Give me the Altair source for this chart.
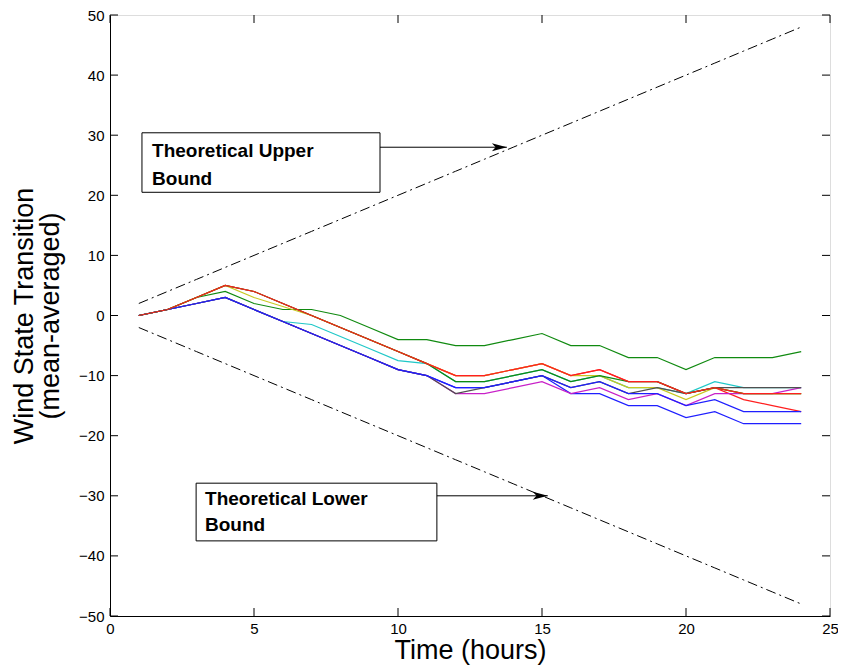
import altair as alt
import pandas as pd

hours = list(range(1, 25))

upper_bound = [2, 4, 6, 8, 10, 12, 14, 16, 18, 20, 22, 24, 26, 28, 30, 32, 34, 36, 38, 40, 42, 44, 46, 48]
lower_bound = [-2, -4, -6, -8, -10, -12, -14, -16, -18, -20, -22, -24, -26, -28, -30, -32, -34, -36, -38, -40, -42, -44, -46, -48]

# series in drawing order (MATLAB default colour cycle b, g, r, c, m, y, k, b, g, r)
blue_a = [0, 1, 2, 3, 1, -1, -3, -5, -7, -9, -10, -12, -12, -11, -10, -13, -13, -15, -15, -17, -16, -18, -18, -18]
green_a = [0, 1, 3, 4, 2, 1, 1, 0, -2, -4, -4, -5, -5, -4, -3, -5, -5, -7, -7, -9, -7, -7, -7, -6]
red_a = [0, 1, 3, 5, 4, 2, 0, -2, -4, -6, -8, -10, -10, -9, -8, -10, -9, -11, -11, -13, -12, -14, -15, -16]
cyan_a = [0, 1, 2, 3, 1, -1, -1.5, -3.5, -5.5, -7.5, -8, -11, -11, -10, -9, -11, -10, -12, -12, -13, -11, -12, -12, -12]
magenta_a = [0, 1, 2, 3, 1, -1, -3, -5, -7, -9, -10, -13, -13, -12, -11, -13, -12, -14, -13, -15, -13, -13, -13, -12]
yellow_a = [0, 1, 3, 5, 3, 1.5, 0, -2, -4, -6, -8, -10, -10, -9, -8, -10, -10, -12, -12, -14, -12, -13, -13, -13]
black_a = [0, 1, 2, 3, 1, -1, -3, -5, -7, -9, -10, -13, -12, -11, -10, -12, -11, -13, -12, -13, -12, -12, -12, -12]
blue_b = [0, 1, 2, 3, 1, -1, -3, -5, -7, -9, -10, -12, -12, -11, -10, -12, -11, -13, -13, -15, -14, -16, -16, -16]
green_b = [0, 1, 3, 5, 4, 2, 0, -2, -4, -6, -8, -11, -11, -10, -9, -11, -10, -11, -11, -13, -12, -13, -13, -13]
red_b = [0, 1, 3, 5, 4, 2, 0, -2, -4, -6, -8, -10, -10, -9, -8, -10, -9, -11, -11, -13, -12, -13, -13, -13]

series_values = [blue_a, green_a, red_a, cyan_a, magenta_a, yellow_a, black_a, blue_b, green_b, red_b]
series_colors = ["#1f1fff", "#108a10", "#ff1f1f", "#20c8c8", "#c820c8", "#c8c820", "#505050",
                 "#1f1fff", "#108a10", "#ff1f1f"]

x_ticks = [0, 5, 10, 15, 20, 25]
y_ticks = [-50, -40, -30, -20, -10, 0, 10, 20, 30, 40, 50]

# annotations
box_x = [1.11, 2.99]
box_x2 = [9.375, 11.35]
box_y = [30.4, -27.9]
box_y2 = [20.5, -37.5]
label_x = [1.46, 1.46, 3.3, 3.3]
label_y = [26.4, 21.7, -31.6, -35.9]
label_text = ["Theoretical Upper", "Bound", "Theoretical Lower", "Bound"]
arrow_x = [9.375, 11.35]
arrow_x2 = [13.78, 15.2]
arrow_y = [28, -30]

W, H = 720, 601
FONT = "Liberation Sans"

x_scale = alt.Scale(domain=[0, 25], nice=False, zero=False)
y_scale = alt.Scale(domain=[-50, 50], nice=False, zero=False)

x_axis = alt.Axis(values=x_ticks, title="Time (hours)", ticks=False, grid=False,
                  domainColor="black", labelColor="black", labelFont=FONT, labelFontSize=15,
                  labelPadding=5, titleFont=FONT, titleFontSize=27, titleFontWeight="normal",
                  titleColor="black", titlePadding=1, labelFlush=False)
y_axis = alt.Axis(values=y_ticks, title=["Wind State Transition", "(mean-averaged)"], ticks=False,
                  grid=False, domainColor="black", labelColor="black", labelFont=FONT,
                  labelFontSize=15, labelPadding=6, titleFont=FONT, titleFontSize=27,
                  titleFontWeight="normal", titleColor="black", titlePadding=14,
                  titleLineHeight=26, labelFlush=False)


def xy():
    return dict(x=alt.X("t:Q", scale=x_scale, axis=x_axis),
                y=alt.Y("v:Q", scale=y_scale, axis=y_axis))


layers = []
for vals in [upper_bound, lower_bound]:
    df = pd.DataFrame({"t": hours, "v": vals})
    layers.append(alt.Chart(df).mark_line(color="black", strokeWidth=1, strokeDash=[10, 4, 2, 4]).encode(**xy()))

for vals, col in zip(series_values, series_colors):
    df = pd.DataFrame({"t": hours, "v": vals})
    layers.append(alt.Chart(df).mark_line(color=col, strokeWidth=1.2).encode(**xy()))

# inward ticks
ytdf = pd.DataFrame({"v": y_ticks})
xtdf = pd.DataFrame({"t": x_ticks})
TL = 8
layers.append(alt.Chart(ytdf).mark_rule(color="black").encode(
    y=alt.Y("v:Q", scale=y_scale, axis=y_axis), x=alt.value(0), x2=alt.value(TL)))
layers.append(alt.Chart(ytdf).mark_rule(color="black").encode(
    y=alt.Y("v:Q", scale=y_scale, axis=y_axis), x=alt.value(W - TL), x2=alt.value(W)))
layers.append(alt.Chart(xtdf).mark_rule(color="black").encode(
    x=alt.X("t:Q", scale=x_scale, axis=x_axis), y=alt.value(H - TL), y2=alt.value(H)))
layers.append(alt.Chart(xtdf).mark_rule(color="black").encode(
    x=alt.X("t:Q", scale=x_scale, axis=x_axis), y=alt.value(0), y2=alt.value(TL)))

# annotation boxes
bdf = pd.DataFrame({"x": box_x, "x2": box_x2, "y": box_y, "y2": box_y2})
layers.append(alt.Chart(bdf).mark_rect(fill="white", stroke="black", strokeWidth=1).encode(
    x=alt.X("x:Q", scale=x_scale, axis=x_axis), x2="x2:Q",
    y=alt.Y("y:Q", scale=y_scale, axis=y_axis), y2="y2:Q"))
tdf = pd.DataFrame({"x": label_x, "y": label_y, "text": label_text})
layers.append(alt.Chart(tdf).mark_text(align="left", baseline="alphabetic", font=FONT,
                                       fontSize=19, fontWeight="bold", color="black").encode(
    x=alt.X("x:Q", scale=x_scale, axis=x_axis), y=alt.Y("y:Q", scale=y_scale, axis=y_axis),
    text="text:N"))
adf = pd.DataFrame({"x": arrow_x, "x2": arrow_x2, "y": arrow_y})
layers.append(alt.Chart(adf).mark_rule(color="black", strokeWidth=1).encode(
    x=alt.X("x:Q", scale=x_scale, axis=x_axis), x2="x2:Q",
    y=alt.Y("y:Q", scale=y_scale, axis=y_axis)))
layers.append(alt.Chart(adf).mark_point(shape="M0,0L-1,-0.27L-0.75,0L-1,0.27Z", size=900,
                                        filled=True, color="black", opacity=1).encode(
    x=alt.X("x2:Q", scale=x_scale, axis=x_axis), y=alt.Y("y:Q", scale=y_scale, axis=y_axis)))

chart = alt.layer(*layers).properties(
    width=W, height=H,
    autosize=alt.AutoSizeParams(type="none"),
    padding={"left": 102, "top": 7, "right": 8, "bottom": 56},
).configure_view(stroke="black", strokeWidth=1).configure(background="white")

chart.save("out.html", embed_options={"renderer": "svg", "actions": False})
